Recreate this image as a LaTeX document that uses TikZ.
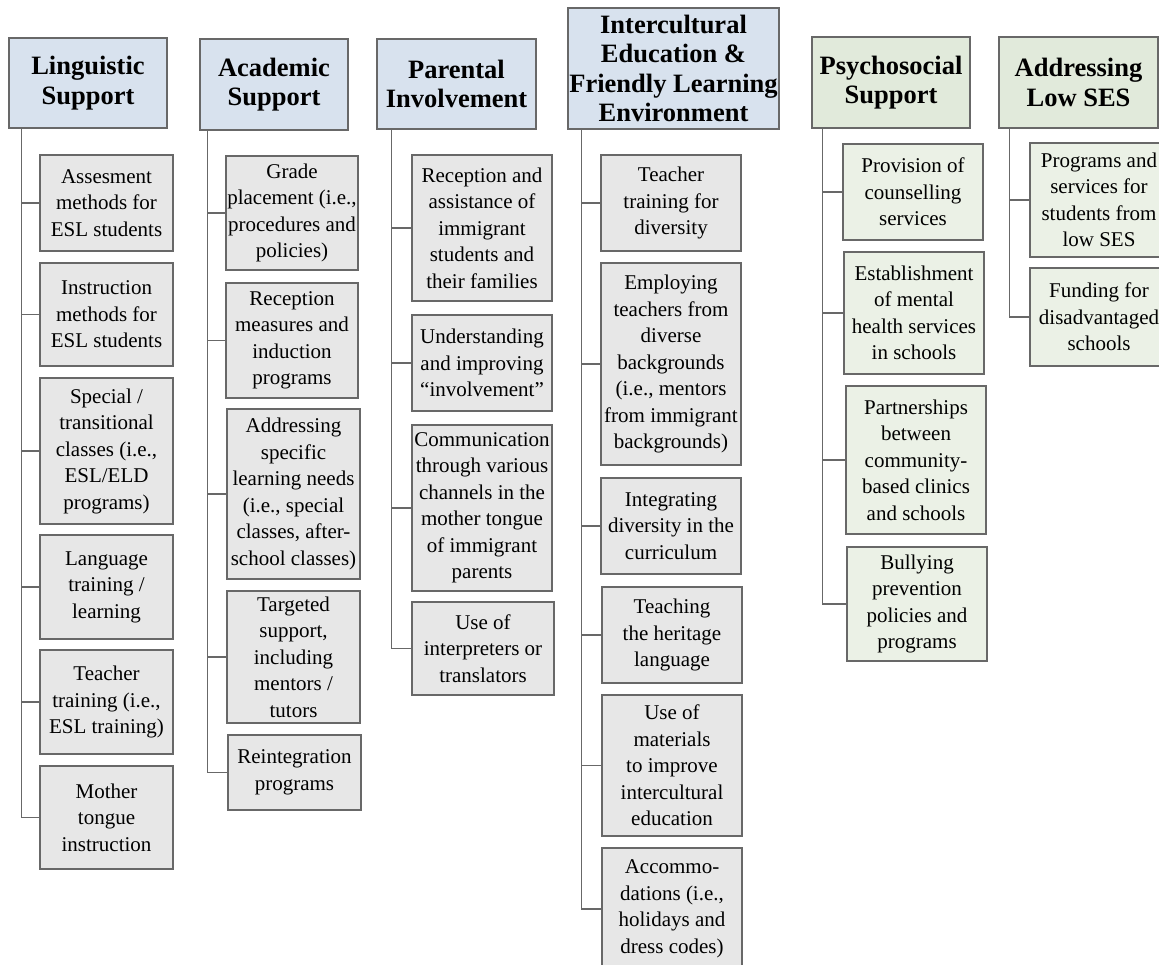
\documentclass[tikz,border=0pt]{standalone}
\usepackage{fontspec}
\setmainfont{Liberation Serif}
\usetikzlibrary{calc}
\definecolor{edge}{HTML}{686868}
\definecolor{hblue}{HTML}{D8E2EE}
\definecolor{hgreen}{HTML}{E1EADB}
\definecolor{cgray}{HTML}{E7E7E7}
\definecolor{cgreen}{HTML}{EBF1E6}
\newcommand{\bx}[7]{\node[#1, minimum width={(#5)-(#3)}, minimum height={(#6)-(#4)}] (#2) at ({((#3)+(#5))/2},{((#4)+(#6))/2}) {#7};}
\tikzset{
  box/.style={draw=edge, line width=1.3pt, rectangle, inner sep=0pt, align=center},
  hdr/.style={box, font=\rmfamily\fontsize{26.5}{29.5}\selectfont\bfseries},
  child/.style={box, font=\rmfamily\fontsize{21}{26.5}\selectfont},
  bluehdr/.style={hdr, fill=hblue},
  greenhdr/.style={hdr, fill=hgreen},
  graychild/.style={child, fill=cgray},
  greenchild/.style={child, fill=cgreen},
  conn/.style={draw=edge, line width=1.3pt}
}
\begin{document}
\begin{tikzpicture}[x=1pt,y=-1pt]
\useasboundingbox (0,0) rectangle (1159,964);
\clip (0,0) rectangle (1159,964);
% headers
\bx{bluehdr}{L}{9}{38}{167}{128}{Linguistic\\Support}
\bx{bluehdr}{A}{200}{39}{348}{130}{Academic\\Support}
\bx{bluehdr}{P}{377}{39}{536}{129}{Parental\\Involvement}
\bx{bluehdr}{I}{568}{8}{779}{129}{Intercultural\\Education \&\\Friendly Learning\\Environment}
\bx{greenhdr}{S}{812}{37}{970}{128}{Psychosocial\\Support}
\bx{greenhdr}{E}{999}{37}{1158}{128}{Addressing\\Low SES}
% Linguistic
\bx{graychild}{L1}{40}{155}{173}{251}{Assesment\\methods for\\ESL students}
\bx{graychild}{L2}{40}{263}{173}{366}{Instruction\\methods for\\ESL students}
\bx{graychild}{L3}{40}{378}{173}{524}{Special /\\transitional\\classes (i.e.,\\ESL/ELD\\programs)}
\bx{graychild}{L4}{40}{535}{173}{639}{Language\\training /\\learning}
\bx{graychild}{L5}{40}{650}{173}{754}{Teacher\\training (i.e.,\\ESL training)}
\bx{graychild}{L6}{40}{766}{173}{869}{Mother\\tongue\\instruction}
% Academic
\bx{graychild}{A1}{226}{156}{358}{270}{Grade\\placement (i.e.,\\procedures and\\policies)}
\bx{graychild}{A2}{226}{283}{358}{398}{Reception\\measures and\\induction\\programs}
\bx{graychild}{A3}{227}{409}{360}{579}{Addressing\\specific\\learning needs\\(i.e., special\\classes, after-\\school classes)}
\bx{graychild}{A4}{227}{591}{360}{723}{Targeted\\support,\\including\\mentors /\\tutors}
\bx{graychild}{A5}{228}{735}{361}{810}{Reintegration\\programs}
% Parental
\bx{graychild}{P1}{412}{155}{552}{301}{Reception and\\assistance of\\immigrant\\students and\\their families}
\bx{graychild}{P2}{412}{315}{552}{411}{Understanding\\and improving\\``involvement''}
\bx{graychild}{P3}{412}{425}{552}{591}{Communication\\through various\\channels in the\\mother tongue\\of immigrant\\parents}
\bx{graychild}{P4}{412}{602}{554}{695}{Use of\\interpreters or\\translators}
% Intercultural
\bx{graychild}{I1}{601}{155}{741}{251}{Teacher\\training for\\diversity}
\bx{graychild}{I2}{601}{263}{741}{465}{Employing\\teachers from\\diverse\\backgrounds\\(i.e., mentors\\from immigrant\\backgrounds)}
\bx{graychild}{I3}{601}{478}{741}{574}{Integrating\\diversity in the\\curriculum}
\bx{graychild}{I4}{602}{587}{742}{683}{Teaching\\the heritage\\language}
\bx{graychild}{I5}{602}{695}{742}{836}{Use of\\materials\\to improve\\intercultural\\education}
\bx{graychild}{I6}{602}{848}{742}{970}{Accommo-\\dations (i.e.,\\holidays and\\dress codes)}
% Psychosocial
\bx{greenchild}{S1}{843}{144}{983}{240}{Provision of\\counselling\\services}
\bx{greenchild}{S2}{844}{252}{984}{374}{Establishment\\of mental\\health services\\in schools}
\bx{greenchild}{S3}{846}{386}{986}{534}{Partnerships\\between\\community-\\based clinics\\and schools}
\bx{greenchild}{S4}{847}{547}{987}{661}{Bullying\\prevention\\policies and\\programs}
% Low SES
\bx{greenchild}{E1}{1030}{143}{1168}{257}{Programs and\\services for\\students from\\low SES}
\bx{greenchild}{E2}{1030}{268}{1168}{366}{Funding for\\disadvantaged\\schools}
% trunk starts
\coordinate (Lt) at ($(L.south west)+(13,0)$);
\coordinate (At) at ($(A.south west)+(8,0)$);
\coordinate (Pt) at ($(P.south west)+(15,0)$);
\coordinate (It) at ($(I.south west)+(14,0)$);
\coordinate (St) at ($(S.south west)+(11,0)$);
\coordinate (Et) at ($(E.south west)+(11,0)$);
% connectors
\foreach \c in {L1,L2,L3,L4,L5,L6} {\draw[conn] (Lt) |- (\c.west);}
\foreach \c in {A1,A2,A3,A4,A5} {\draw[conn] (At) |- (\c.west);}
\foreach \c in {P1,P2,P3,P4} {\draw[conn] (Pt) |- (\c.west);}
\foreach \c in {I1,I2,I3,I4,I5,I6} {\draw[conn] (It) |- (\c.west);}
\foreach \c in {S1,S2,S3,S4} {\draw[conn] (St) |- (\c.west);}
\foreach \c in {E1,E2} {\draw[conn] (Et) |- (\c.west);}
\end{tikzpicture}
\end{document}
